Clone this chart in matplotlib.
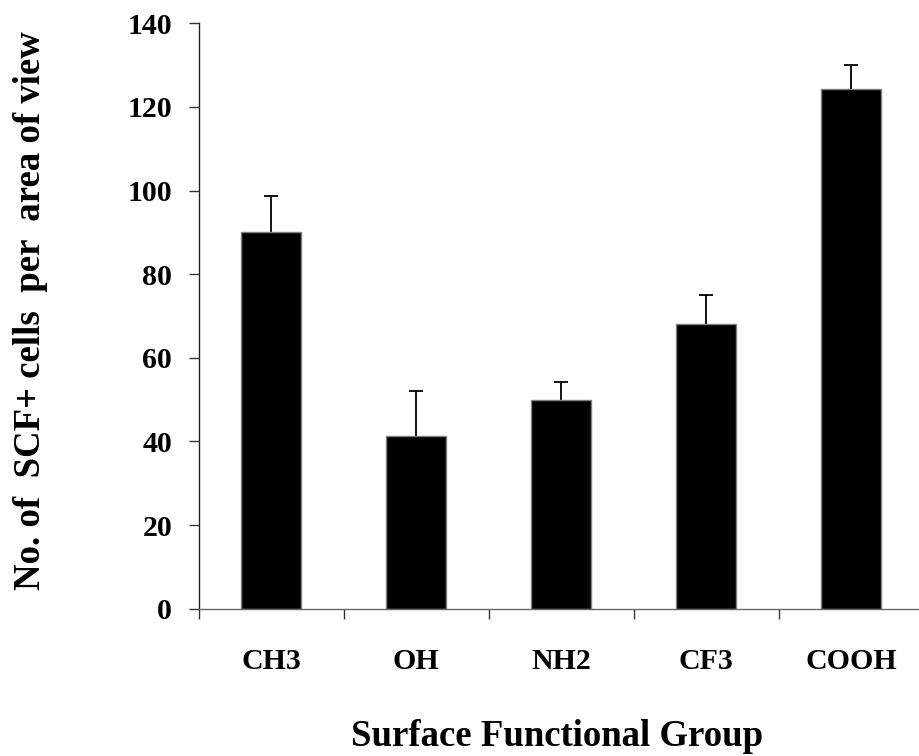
import matplotlib
matplotlib.use("Agg")
import matplotlib.pyplot as plt
import numpy as np

categories = ["CH3", "OH", "NH2", "CF3", "COOH"]
values = [90.0, 41.3, 50.0, 68.2, 124.4]
errors = [8.7, 10.8, 4.1, 6.9, 5.7]
yticks = [0, 20, 40, 60, 80, 100, 120, 140]

plt.rcParams['font.family'] = ['Liberation Serif', 'DejaVu Serif']
plt.rcParams['font.weight'] = 'bold'

fig = plt.figure(figsize=(9.19, 7.56), dpi=100)
ax = fig.add_axes([198.7/919, 1-608.7/756, (923.7-198.7)/919, (608.7-23.3)/756])

x = np.arange(len(categories))
ax.bar(x, values, width=0.417, color='black', edgecolor='#808080', linewidth=1.0, zorder=2)
eb = ax.errorbar(x, values, yerr=[np.zeros(len(errors)), errors], fmt='none',
                 ecolor='black', elinewidth=1.3, capsize=5.3, capthick=1.3, zorder=1)
caplines = eb[1]
if len(caplines) == 2:
    caplines[0].set_visible(False)

ax.set_xlim(-0.5, len(categories)-0.5)
ax.set_ylim(0, 140)
ax.set_yticks(yticks)
ax.set_yticklabels([str(v) for v in yticks], fontsize=21.5, fontweight='bold')
ax.set_xticks(x)
ax.set_xticklabels(categories, fontsize=21.5, fontweight='bold')
ax.set_xticks(np.arange(-0.5, len(categories), 1.0), minor=True)
ax.tick_params(axis='x', which='major', length=0, pad=28)
ax.tick_params(axis='x', which='minor', length=7.2, width=1.0, direction='out', color='#333333')
ax.tick_params(axis='y', length=7.2, width=1.0, direction='out', pad=12, color='#333333')

for s in ['top', 'right']:
    ax.spines[s].set_visible(False)
ax.spines['left'].set_color('#222222')
ax.spines['bottom'].set_color('#666666')
ax.spines['left'].set_linewidth(1.0)
ax.spines['bottom'].set_linewidth(1.0)

fig.text(557/919, 1-737/756, "Surface Functional Group", ha='center', va='center',
         fontsize=26.5, fontweight='bold')
fig.text(31/919, 1-311/756, "No. of  SCF+ cells  per  area of view", ha='center', va='center',
         rotation=90, fontsize=26.5, fontweight='bold')

fig.savefig("out.png", dpi=100, facecolor='white')
